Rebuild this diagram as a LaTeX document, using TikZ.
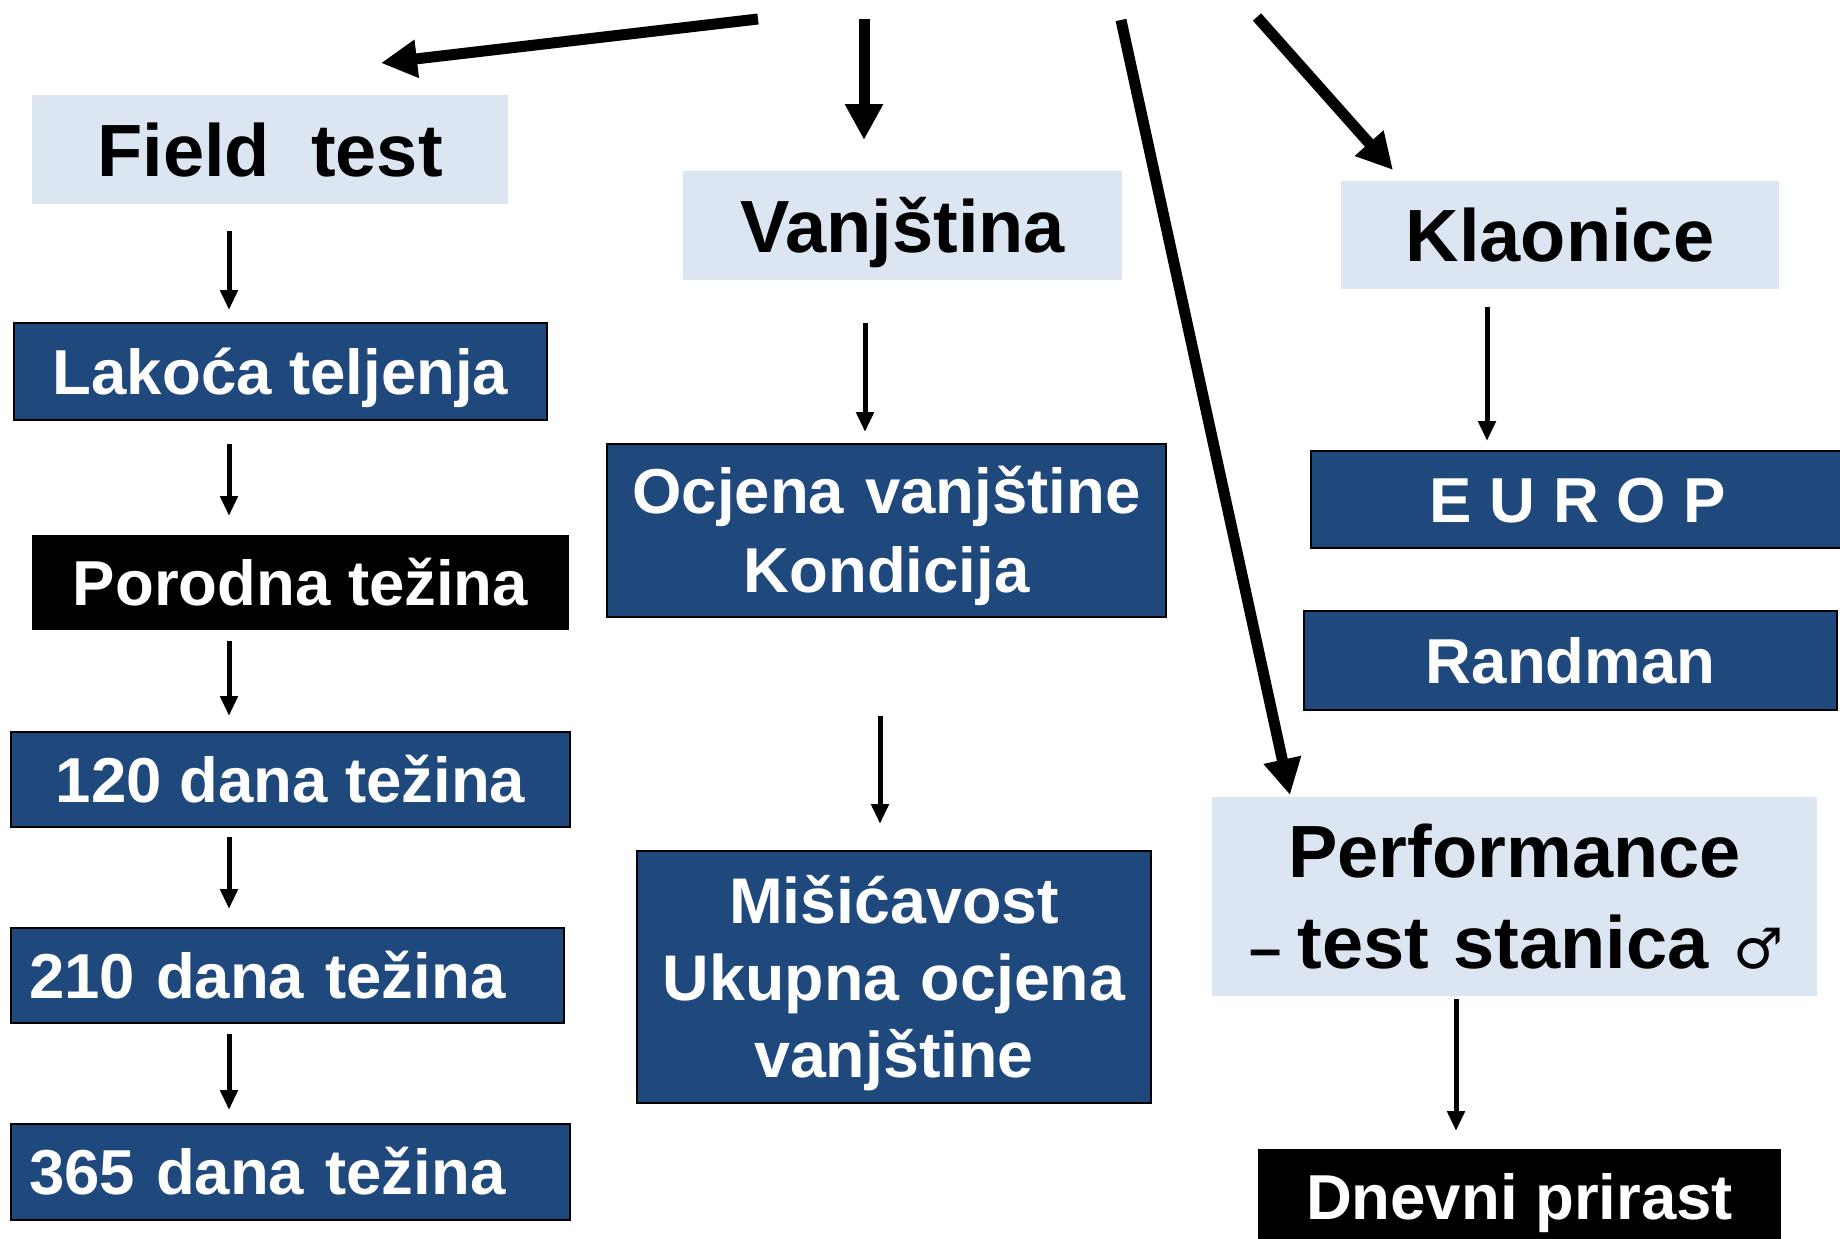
\documentclass[tikz,border=0pt]{standalone}
\usepackage{fontspec}
\setmainfont{Liberation Sans}
\newfontfamily\symf{DejaVu Sans}
\usetikzlibrary{arrows.meta,calc}
\definecolor{lightfill}{HTML}{DCE6F2}
\definecolor{darkfill}{HTML}{1F497D}
\begin{document}
\begin{tikzpicture}[x=1pt,y=-1pt,
  every node/.style={inner sep=0pt, outer sep=0pt},
  bigf/.style={font=\fontsize{74pt}{91pt}\selectfont\bfseries, text height=53pt, text depth=0pt},
  midf/.style={font=\fontsize{63.5pt}{78pt}\selectfont\bfseries, text height=45.5pt, text depth=0pt},
  lbox/.style={fill=lightfill, text=black, bigf},
  bbox/.style={fill=darkfill, draw=black, line width=2pt, text=white, midf},
  kbox/.style={fill=black, text=white, midf},
  thinarr/.style={line width=5pt, -{Triangle[length=20pt,width=17pt]}},
  thickarr/.style={line width=11pt, -{Triangle[length=36pt,width=36pt]}},
]
\path[use as bounding box, clip] (0,0) rectangle (1840,1239);
\fill[white] (0,0) rectangle (1840,1239);

% left column
\node[lbox, minimum width=476pt, minimum height=109pt] (ft) at (270,149.5) {Field~~test};
\node[bbox, minimum width=533pt, minimum height=97pt] (lt) at (280.5,371.5) {Lakoća teljenja};
\node[kbox, minimum width=537pt, minimum height=95pt] (pt) at (300.5,582.5) {Porodna težina};
\node[bbox, minimum width=559pt, minimum height=95pt] (d120) at (290.5,779.5) {120 dana težina};
\node[bbox, text width=517pt, align=left, minimum width=553pt, minimum height=95pt] (d210) at (287.5,975.5) {210 dana težina};
\node[bbox, text width=523pt, align=left, minimum width=559pt, minimum height=96pt] (d365) at (290.5,1172) {365 dana težina};

% middle column
\node[lbox, minimum width=439pt, minimum height=109pt] (vj) at (902.5,225.5) {Vanjština};
\node[bbox, text width=540pt, align=center, font=\fontsize{63.5pt}{79pt}\selectfont\bfseries, text height=45.5pt, text depth=79pt, minimum width=559pt, minimum height=173pt] (oc) at (886.5,530.5) {Ocjena vanjštine\\Kondicija};
\node[bbox, text width=500pt, align=center, font=\fontsize{64.5pt}{77pt}\selectfont\bfseries, text height=46pt, text depth=154pt, minimum width=514pt, minimum height=252pt] (mi) at (894,977) {Mišićavost\\Ukupna ocjena\\vanjštine};

% right column
\node[lbox, minimum width=438pt, minimum height=108pt] (kl) at (1560,235) {Klaonice};
\node[bbox, minimum width=534pt, minimum height=97pt] (eu) at (1578,499.5) {E U R O P};
\node[bbox, minimum width=533pt, minimum height=99pt] (ra) at (1570.5,660.5) {Randman};
\node[lbox, text width=590pt, align=center, text height=53pt, text depth=91pt, minimum width=605pt, minimum height=199pt] (pf) at (1514.5,896.5) {Performance\\\hspace*{4pt}{\fontsize{58pt}{58pt}\selectfont –}\hspace{16pt}test stanica {\symf\mdseries\fontsize{56pt}{56pt}\selectfont ♂}};
\node[kbox, minimum width=523pt, minimum height=95pt] (dp) at (1519.5,1196.5) {Dnevni prirast};

% thin arrows
\draw[thinarr] ($(ft.south)+(-41,27)$) -- ($(lt.north)+(-51.5,-13)$);
\draw[thinarr] ($(lt.south)+(-51.5,24)$) -- ($(pt.north)+(-71.5,-19)$);
\draw[thinarr] ($(pt.south)+(-71.5,11)$) -- ($(d120.north)+(-61.5,-16)$);
\draw[thinarr] ($(d120.south)+(-61.5,10)$) -- ($(d210.north)+(-58.5,-19)$);
\draw[thinarr] ($(d210.south)+(-58.5,11)$) -- ($(d365.north)+(-61.5,-14)$);
\draw[thinarr] ($(vj.south)+(-37.5,43)$) -- ($(oc.north)+(-21.5,-12)$);
\draw[thinarr] ($(oc.south)+(-6.5,99)$) -- ($(mi.north)+(-14,-27)$);
\draw[thinarr] ($(kl.south)+(-73,18)$) -- ($(eu.north)+(-91,-10)$);
\draw[thinarr] ($(pf.south)+(-58.5,3)$) -- ($(dp.north)+(-63.5,-18)$);

% thick arrows from the top
\coordinate (s1) at (758,19);
\coordinate (s2) at (864,19);
\coordinate (s3) at (1121,20);
\coordinate (s4) at (1257,17);
\draw[thickarr] (s1) -- ($(ft.north)+(111,-32)$);
\draw[thickarr] (s2) -- ($(vj.north)+(-38.5,-31)$);
\draw[thickarr] (s3) -- ($(pf.north)+(-224.5,-2)$);
\draw[thickarr] (s4) -- ($(kl.north)+(-167,-11)$);
\end{tikzpicture}
\end{document}
